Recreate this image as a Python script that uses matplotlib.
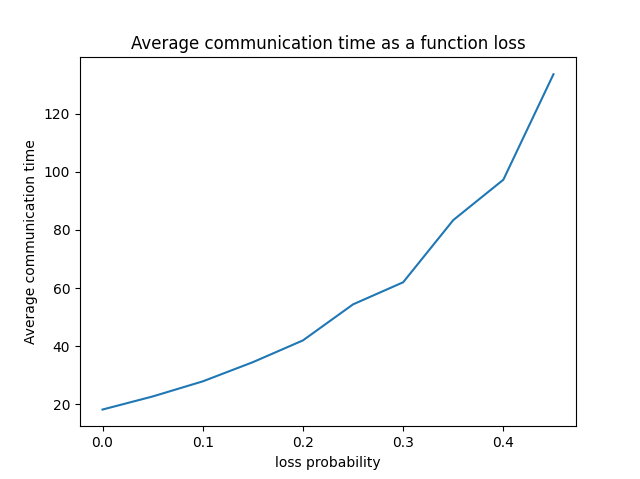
import matplotlib
matplotlib.use("Agg")
import matplotlib.pyplot as plt

loss_probability = [0.0, 0.05, 0.1, 0.15, 0.2, 0.25, 0.3, 0.35, 0.4, 0.45]
avg_comm_time = [18.2, 22.7, 27.9, 34.5, 42.0, 54.4, 62.0, 83.4, 97.3, 133.6]

fig, ax = plt.subplots(figsize=(6.4, 4.79), dpi=100)
ax.plot(loss_probability, avg_comm_time)
ax.set_title("Average communication time as a function loss")
ax.set_xlabel("loss probability")
ax.set_ylabel("Average communication time")
fig.savefig("out.png")
